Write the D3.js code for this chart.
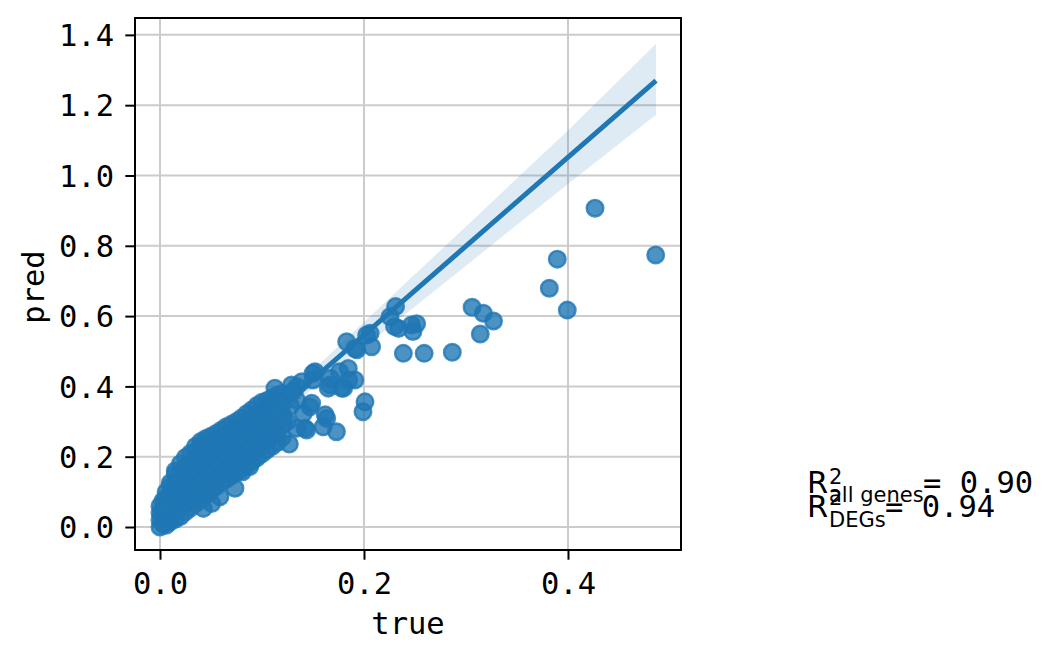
<!DOCTYPE html>
<html><head><meta charset="utf-8">
<script src="https://cdn.jsdelivr.net/npm/d3@7"></script>
<style>body{margin:0;background:#fff}svg{display:block}</style>
</head><body>
<svg id="c" width="1055" height="660"></svg>
<script>
// ---- data ----
const xTicks = [0.0, 0.2, 0.4];
const yTicks = [0.0, 0.2, 0.4, 0.6, 0.8, 1.0, 1.2, 1.4];
const xLabel = "true";
const yLabel = "pred";

// dense cluster: [true, [pred values ...]]
const denseColumns = [
  [0.000, [0.000, 0.020, 0.040, 0.060]],
  [0.003, [0.008, 0.030, 0.052, 0.075]],
  [0.006, [0.005, 0.032, 0.058, 0.082, 0.100]],
  [0.010, [0.015, 0.040, 0.065, 0.090, 0.115, 0.125]],
  [0.015, [0.022, 0.050, 0.075, 0.100, 0.125, 0.150, 0.160]],
  [0.020, [0.030, 0.055, 0.080, 0.105, 0.130, 0.155, 0.180]],
  [0.025, [0.043, 0.070, 0.095, 0.120, 0.145, 0.170, 0.198]],
  [0.030, [0.055, 0.080, 0.105, 0.130, 0.155, 0.180, 0.210]],
  [0.035, [0.067, 0.090, 0.115, 0.140, 0.165, 0.190, 0.215, 0.230]],
  [0.040, [0.078, 0.105, 0.130, 0.155, 0.180, 0.205, 0.230, 0.243]],
  [0.045, [0.090, 0.115, 0.140, 0.165, 0.190, 0.215, 0.240, 0.252]],
  [0.050, [0.103, 0.130, 0.155, 0.180, 0.205, 0.230, 0.258]],
  [0.055, [0.115, 0.140, 0.165, 0.190, 0.215, 0.240, 0.266]],
  [0.060, [0.127, 0.150, 0.175, 0.200, 0.225, 0.250, 0.275]],
  [0.065, [0.136, 0.160, 0.185, 0.210, 0.235, 0.260, 0.285]],
  [0.070, [0.146, 0.170, 0.195, 0.220, 0.245, 0.270, 0.292]],
  [0.075, [0.155, 0.180, 0.205, 0.230, 0.255, 0.280, 0.300]],
  [0.080, [0.165, 0.190, 0.215, 0.240, 0.265, 0.290, 0.310]],
  [0.085, [0.175, 0.200, 0.225, 0.250, 0.275, 0.300, 0.322]],
  [0.090, [0.186, 0.210, 0.235, 0.260, 0.285, 0.310, 0.333]],
  [0.095, [0.197, 0.220, 0.245, 0.270, 0.295, 0.320, 0.345]],
  [0.100, [0.208, 0.235, 0.260, 0.285, 0.310, 0.335, 0.355]],
  [0.105, [0.220, 0.250, 0.280, 0.310, 0.340, 0.360]],
  [0.110, [0.230, 0.260, 0.290, 0.320, 0.350, 0.368]],
  [0.115, [0.240, 0.270, 0.300, 0.330, 0.360, 0.375]],
  [0.120, [0.255, 0.290, 0.320, 0.350, 0.380]]
];

// sparser points and outliers: [true, pred]
const sparsePoints = [
  [0.4265, 0.907], [0.486, 0.774], [0.3895, 0.762], [0.3817, 0.679], [0.3993, 0.617],
  [0.306, 0.625], [0.317, 0.608], [0.327, 0.586], [0.314, 0.549],
  [0.2386, 0.494], [0.259, 0.494], [0.2866, 0.497],
  [0.231, 0.627], [0.2255, 0.598], [0.234, 0.565], [0.230, 0.570],
  [0.2516, 0.578], [0.2467, 0.575], [0.248, 0.556],
  [0.2026, 0.546], [0.206, 0.551], [0.2075, 0.513], [0.193, 0.504], [0.191, 0.508],
  [0.183, 0.527], [0.1846, 0.451], [0.176, 0.442], [0.191, 0.418], [0.185, 0.418],
  [0.180, 0.395], [0.178, 0.395], [0.1667, 0.404], [0.167, 0.423], [0.165, 0.395],
  [0.152, 0.442], [0.150, 0.437], [0.150, 0.418], [0.139, 0.413], [0.134, 0.399],
  [0.129, 0.404], [0.1127, 0.395],
  [0.201, 0.356], [0.199, 0.328], [0.1634, 0.309], [0.160, 0.285], [0.173, 0.271],
  [0.162, 0.319], [0.142, 0.281], [0.1438, 0.276], [0.134, 0.281], [0.1268, 0.236],
  [0.1487, 0.352], [0.147, 0.342], [0.134, 0.361], [0.118, 0.361], [0.1405, 0.323],
  [0.121, 0.309], [0.125, 0.300], [0.128, 0.345], [0.130, 0.385],
  [0.088, 0.172], [0.081, 0.157], [0.0735, 0.110], [0.0507, 0.067], [0.0588, 0.086],
  [0.0425, 0.053]
];

// regression fit and confidence band
const fitX  = [0.000, 0.4863];
const fitY  = [0.041, 1.270];
const bandX  = [0.000, 0.050, 0.100, 0.150, 0.200, 0.250, 0.300, 0.350, 0.400, 0.4863];
const bandLo = [0.035, 0.160, 0.278, 0.394, 0.511, 0.627, 0.743, 0.860, 0.976, 1.173];
const bandHi = [0.047, 0.174, 0.310, 0.446, 0.583, 0.719, 0.855, 0.992, 1.128, 1.375];

// annotation
const r2Labels = ["all genes", "DEGs"];
const r2Values = ["0.90", "0.94"];

// ---- drawing ----
const svg = d3.select("#c");
const L = 135, R = 681, T = 18, B = 550;
const x = d3.scaleLinear().domain([-0.0245, 0.5108]).range([L, R]);
const y = d3.scaleLinear().domain([-0.0654, 1.448]).range([B, T]);
const blue = "#1f77b4";
const mono = "'DejaVu Sans Mono', monospace";
const sans = "'DejaVu Sans', sans-serif";
const FS = 30.5;

svg.append("defs").append("clipPath").attr("id", "clip")
  .append("rect").attr("x", L).attr("y", T).attr("width", R - L).attr("height", B - T);

// grid
const g = svg.append("g");
g.selectAll("line.gx").data(xTicks).enter().append("line")
  .attr("x1", d => x(d)).attr("x2", d => x(d)).attr("y1", T).attr("y2", B)
  .attr("stroke", "#cccccc").attr("stroke-width", 2);
g.selectAll("line.gy").data(yTicks).enter().append("line")
  .attr("y1", d => y(d)).attr("y2", d => y(d)).attr("x1", L).attr("x2", R)
  .attr("stroke", "#cccccc").attr("stroke-width", 2);

// points
const pts = [];
denseColumns.forEach(([t, ps]) => ps.forEach(p => pts.push([t, p])));
sparsePoints.forEach(d => pts.push(d));
const plot = svg.append("g").attr("clip-path", "url(#clip)");
plot.selectAll("circle").data(pts).enter().append("circle")
  .attr("cx", d => x(d[0])).attr("cy", d => y(d[1])).attr("r", 8.3)
  .attr("fill", blue).attr("fill-opacity", 0.8)
  .attr("stroke", blue).attr("stroke-opacity", 0.8).attr("stroke-width", 2.4);

// band
const bandData = bandX.map((v, i) => [v, bandLo[i], bandHi[i]]);
plot.append("path").datum(bandData)
  .attr("d", d3.area().x(d => x(d[0])).y0(d => y(d[1])).y1(d => y(d[2])))
  .attr("fill", blue).attr("fill-opacity", 0.15);
// line
plot.append("path").datum(fitX.map((v, i) => [v, fitY[i]]))
  .attr("d", d3.line().x(d => x(d[0])).y(d => y(d[1])))
  .attr("fill", "none").attr("stroke", blue).attr("stroke-width", 5);

// axes
const xAxis = svg.append("g").attr("transform", `translate(0,${B})`)
  .call(d3.axisBottom(x).tickValues(xTicks).tickFormat(d3.format(".1f")).tickSize(9.7).tickPadding(8));
const yAxis = svg.append("g").attr("transform", `translate(${L},0)`)
  .call(d3.axisLeft(y).tickValues(yTicks).tickFormat(d3.format(".1f")).tickSize(9.7).tickPadding(8));
[xAxis, yAxis].forEach(a => {
  a.select(".domain").remove();
  a.selectAll("line").attr("stroke", "#000").attr("stroke-width", 2);
  a.selectAll("text").attr("font-family", mono).attr("font-size", FS).attr("fill", "#000");
});
xAxis.selectAll("text").attr("dy", null).attr("y", 44);
yAxis.selectAll("text").attr("dy", "0.35em").attr("x", -21);

// frame
svg.append("rect").attr("x", L).attr("y", T).attr("width", R - L).attr("height", B - T)
  .attr("fill", "none").attr("stroke", "#000").attr("stroke-width", 2);

// axis labels
svg.append("text").attr("x", (L + R) / 2).attr("y", 634).attr("text-anchor", "middle")
  .attr("font-family", mono).attr("font-size", FS).text(xLabel);
svg.append("text").attr("transform", `translate(44,${(T + B) / 2 + 3}) rotate(-90)`)
  .attr("text-anchor", "middle").attr("font-family", mono).attr("font-size", FS).text(yLabel);

// annotation
const ann = [
  {base: 493, sup: 484, sub: 502, eqX: 923},
  {base: 517, sup: 505, sub: 527, eqX: 885}
];
ann.forEach((a, i) => {
  svg.append("text").attr("x", 807).attr("y", a.base).attr("font-family", sans)
    .attr("font-size", FS).text("R");
  svg.append("text").attr("x", 829).attr("y", a.sup).attr("font-family", sans)
    .attr("font-size", 21).text("2");
  svg.append("text").attr("x", 829).attr("y", a.sub).attr("font-family", sans)
    .attr("font-size", 21).text(r2Labels[i]);
  svg.append("text").attr("x", a.eqX).attr("y", a.base).attr("font-family", mono)
    .attr("font-size", FS).attr("xml:space", "preserve").style("white-space", "pre")
    .text("= " + r2Values[i]);
});
</script>
</body></html>
